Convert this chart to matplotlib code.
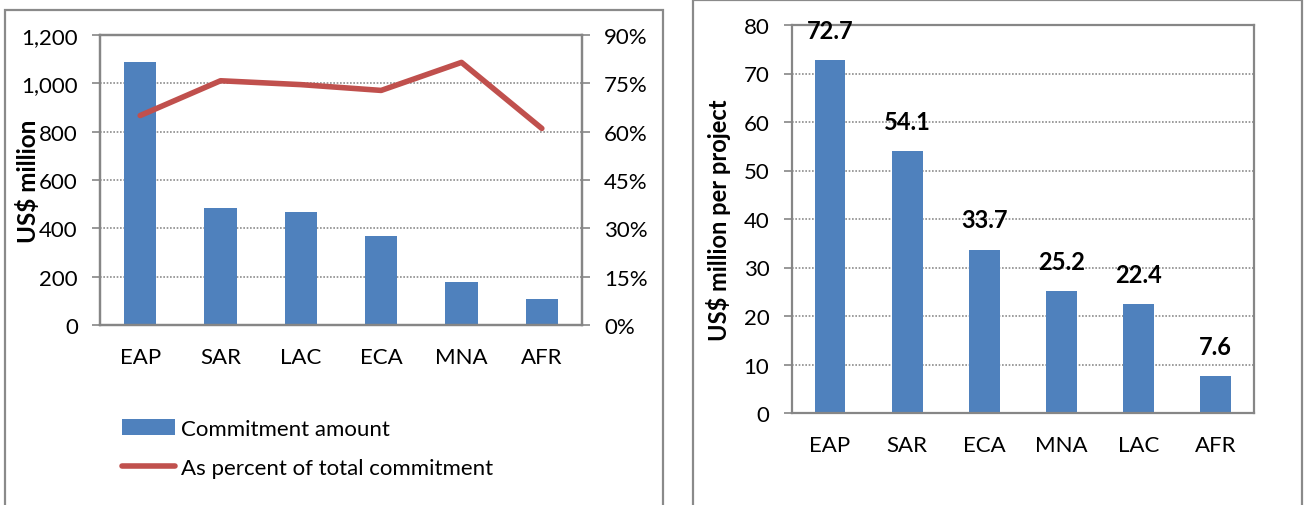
import matplotlib
matplotlib.use("Agg")
import matplotlib.pyplot as plt
from matplotlib.patches import Rectangle
from matplotlib.ticker import FuncFormatter, MultipleLocator
import numpy as np

plt.rcParams['font.family'] = ['Lato', 'DejaVu Sans']

# Left chart data
regions_left = ["EAP", "SAR", "LAC", "ECA", "MNA", "AFR"]
commitment = [1089, 485, 468, 369, 176, 106]
pct_total = [65.0, 75.8, 74.6, 72.8, 81.5, 61.0]

# Right chart data
regions_right = ["EAP", "SAR", "ECA", "MNA", "LAC", "AFR"]
per_project = [72.7, 54.1, 33.7, 25.2, 22.4, 7.6]

BAR = "#4F81BD"
LINE = "#C0504D"
SPINE = "#868686"
GRID = "#8C8C8C"
FS = 16

W, H = 1304, 506
fig = plt.figure(figsize=(W / 100, H / 100), dpi=100)

def fx(px):
    return px / W

def fy(py):
    return 1 - py / H

# panel borders
fig.patches.append(Rectangle((fx(4.5), fy(520)), fx(663 - 4.5), (520 - 10.5) / H,
                             transform=fig.transFigure, fill=False,
                             edgecolor="#8A8A8A", linewidth=1.6, zorder=0))
fig.patches.append(Rectangle((fx(693), fy(520)), fx(1302 - 693), (520 - 1) / H,
                             transform=fig.transFigure, fill=False,
                             edgecolor="#8A8A8A", linewidth=1.6, zorder=0))

def style_axis(ax):
    for s in ax.spines.values():
        s.set_color(SPINE)
        s.set_linewidth(1.6)
    ax.tick_params(axis='both', colors=SPINE, labelcolor="black", labelsize=FS,
                   width=1.2, length=6, pad=10)
    ax.tick_params(axis='x', length=0, pad=16)
    ax.yaxis.grid(True, linestyle=(0, (1, 1)), color=GRID, linewidth=1.2)
    ax.set_axisbelow(True)

# ---------------- Left chart ----------------
ax1 = fig.add_axes([fx(100), fy(326), fx(582 - 100), (326 - 36) / H])
x = np.arange(len(regions_left))
bars = ax1.bar(x, commitment, width=0.4, color=BAR, label="Commitment amount", zorder=2)
ax1.set_xlim(-0.5, len(regions_left) - 0.5)
ax1.set_ylim(0, 1200)
ax1.yaxis.set_major_locator(MultipleLocator(200))
ax1.yaxis.set_major_formatter(FuncFormatter(lambda v, p: f"{int(v):,}"))
ax1.set_xticks(x)
ax1.set_xticklabels(regions_left)
style_axis(ax1)
ax1.set_ylabel("US$ million", fontsize=17.5, fontweight="bold")
ax1.yaxis.set_label_coords(-0.125, 0.5)

ax2 = ax1.twinx()
line, = ax2.plot(x, pct_total, color=LINE, linewidth=4, label="As percent of total commitment",
                 solid_capstyle="round", zorder=3)
ax2.set_ylim(0, 90)
ax2.yaxis.set_major_locator(MultipleLocator(15))
ax2.yaxis.set_major_formatter(FuncFormatter(lambda v, p: f"{int(v)}%"))
for s in ax2.spines.values():
    s.set_color(SPINE)
    s.set_linewidth(1.6)
ax2.tick_params(axis='y', colors=SPINE, labelcolor="black", labelsize=FS, width=1.2,
                length=6, pad=10)

leg = fig.legend([bars, line], ["Commitment amount", "As percent of total commitment"],
                 loc="upper left", bbox_to_anchor=(fx(113), fy(411)), frameon=False,
                 fontsize=FS, handlelength=2.4, handletextpad=0.25,
                 labelspacing=0.85, borderaxespad=0)

# ---------------- Right chart ----------------
ax3 = fig.add_axes([fx(791.5), fy(414), fx(1254 - 791.5), (414 - 26) / H])
xr = np.arange(len(regions_right))
ax3.bar(xr, per_project, width=0.4, color=BAR, zorder=2)
ax3.set_xlim(-0.5, len(regions_right) - 0.5)
ax3.set_ylim(0, 80)
ax3.yaxis.set_major_locator(MultipleLocator(10))
ax3.set_xticks(xr)
ax3.set_xticklabels(regions_right)
style_axis(ax3)
ax3.set_ylabel("US$ million per project", fontsize=17, fontweight="bold")
ax3.yaxis.set_label_coords(-0.13, 0.5)
for xi, v in zip(xr, per_project):
    ax3.annotate(f"{v}", (xi, v), xytext=(0, 13), textcoords="offset points",
                 ha="center", va="bottom", fontsize=17, fontweight="bold")

fig.savefig("out.png", dpi=100)
